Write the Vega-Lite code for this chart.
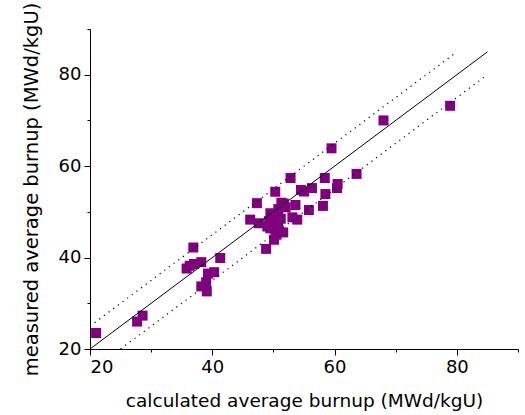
{
  "$schema": "https://vega.github.io/schema/vega-lite/v6.json",
  "autosize": {"type": "none"},
  "width": 428,
  "height": 320,
  "padding": {"left": 90, "top": 29, "right": 7, "bottom": 66},
  "config": {
    "view": {"stroke": null},
    "font": "DejaVu Sans",
    "axis": {
      "grid": false,
      "domainColor": "#000000",
      "tickColor": "#000000",
      "labelColor": "#000000",
      "titleColor": "#000000",
      "labelFont": "DejaVu Sans",
      "titleFont": "DejaVu Sans",
      "labelFontSize": 18,
      "titleFontSize": 18.5,
      "titleFontWeight": "normal",
      "labelPadding": 3
    }
  },
  "datasets": {
    "points": [
      {"calc": 21.0, "meas": 23.5}, {"calc": 27.7, "meas": 26.0}, {"calc": 28.6, "meas": 27.3},
      {"calc": 35.8, "meas": 37.6}, {"calc": 36.3, "meas": 38.2}, {"calc": 37.0, "meas": 38.6},
      {"calc": 38.2, "meas": 39.0}, {"calc": 36.9, "meas": 42.2}, {"calc": 41.3, "meas": 39.9},
      {"calc": 39.3, "meas": 36.5}, {"calc": 40.3, "meas": 36.8}, {"calc": 38.2, "meas": 33.7},
      {"calc": 39.0, "meas": 34.6}, {"calc": 39.1, "meas": 32.6},
      {"calc": 46.2, "meas": 48.3}, {"calc": 47.3, "meas": 51.9}, {"calc": 47.6, "meas": 47.5},
      {"calc": 48.8, "meas": 41.9}, {"calc": 49.5, "meas": 49.7}, {"calc": 50.6, "meas": 49.4},
      {"calc": 49.5, "meas": 46.4}, {"calc": 50.3, "meas": 46.1}, {"calc": 51.6, "meas": 45.5},
      {"calc": 50.1, "meas": 43.9}, {"calc": 50.3, "meas": 54.4}, {"calc": 51.7, "meas": 51.8},
      {"calc": 53.6, "meas": 51.5}, {"calc": 52.0, "meas": 51.0}, {"calc": 53.1, "meas": 48.8},
      {"calc": 53.9, "meas": 48.3}, {"calc": 49.3, "meas": 48.0}, {"calc": 50.0, "meas": 47.2},
      {"calc": 50.8, "meas": 50.6}, {"calc": 51.2, "meas": 48.5}, {"calc": 49.0, "meas": 46.8},
      {"calc": 50.5, "meas": 45.0}, {"calc": 49.8, "meas": 49.0}, {"calc": 51.3, "meas": 52.0},
      {"calc": 50.8, "meas": 47.5},
      {"calc": 52.8, "meas": 57.4}, {"calc": 58.4, "meas": 57.4}, {"calc": 63.6, "meas": 58.3},
      {"calc": 55.0, "meas": 54.45}, {"calc": 54.5, "meas": 54.8}, {"calc": 56.3, "meas": 55.2},
      {"calc": 60.5, "meas": 56.1}, {"calc": 60.4, "meas": 55.2}, {"calc": 58.5, "meas": 53.9},
      {"calc": 58.1, "meas": 51.3}, {"calc": 55.8, "meas": 50.4}, {"calc": 59.5, "meas": 63.9},
      {"calc": 68.0, "meas": 70.0}, {"calc": 78.9, "meas": 73.2}
    ],
    "fit": [
      {"calc": 20, "meas": 20}, {"calc": 85, "meas": 85}
    ],
    "bands": [
      {"band": "upper", "calc": 20, "meas": 25}, {"band": "upper", "calc": 80, "meas": 85},
      {"band": "lower", "calc": 25, "meas": 20}, {"band": "lower", "calc": 85, "meas": 80}
    ]
  },
  "layer": [
    {
      "data": {"name": "points"},
      "mark": {"type": "point", "shape": "square", "filled": true, "size": 100, "color": "#800080", "opacity": 1},
      "encoding": {
        "x": {
          "field": "calc", "type": "quantitative",
          "scale": {"domain": [20, 90], "nice": false, "zero": false},
          "axis": {"orient": "bottom", "values": [20, 40, 60, 80], "tickSize": 6, "title": "calculated average burnup (MWd/kgU)", "titlePadding": 15}
        },
        "y": {
          "field": "meas", "type": "quantitative",
          "scale": {"domain": [20, 90], "nice": false, "zero": false},
          "axis": {"orient": "left", "values": [20, 40, 60, 80], "tickSize": 6, "title": "measured average burnup (MWd/kgU)", "titlePadding": 17, "titleFontSize": 19.5}
        }
      }
    },
    {
      "data": {"name": "fit"},
      "mark": {"type": "line", "color": "#000000", "strokeWidth": 1},
      "encoding": {
        "x": {
          "field": "calc", "type": "quantitative",
          "axis": {"orient": "bottom", "values": [30, 50, 70, 90], "tickSize": 3, "labels": false, "domain": false, "title": null}
        },
        "y": {
          "field": "meas", "type": "quantitative",
          "axis": {"orient": "left", "values": [30, 50, 70, 90], "tickSize": 3, "labels": false, "domain": false, "title": null}
        }
      }
    },
    {
      "data": {"name": "bands"},
      "mark": {"type": "line", "color": "#000000", "strokeWidth": 1.2, "strokeDash": [1.2, 4.6]},
      "encoding": {
        "x": {"field": "calc", "type": "quantitative", "axis": null},
        "y": {"field": "meas", "type": "quantitative", "axis": null},
        "detail": {"field": "band"}
      }
    }
  ],
  "resolve": {"axis": {"x": "independent", "y": "independent"}}
}
